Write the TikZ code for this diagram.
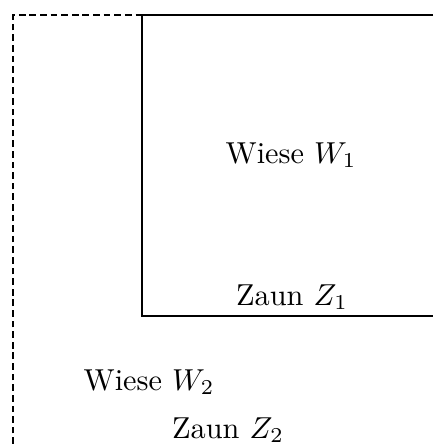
\documentclass[tikz,border=0pt]{standalone}
\begin{document}
\begin{tikzpicture}[x=0.33pt,y=-0.33pt,
  lbl/.style={inner sep=0pt,font=\normalsize},
  fence/.style={line width=0.45pt},
  border/.style={line width=0.45pt,dash pattern=on 2.2pt off 1.3pt}]
\useasboundingbox (0,0) rectangle (433,444);
\coordinate (dl) at (13,444);
\coordinate (dc) at (13,15);
\coordinate (tc) at (142,15);
\coordinate (tr) at (433,15);
\coordinate (bc) at (142,316);
\coordinate (br) at (433,316);
\draw[border] (dl) -- (dc) -- (tc);
\draw[fence] (tr) -- (tc) -- (bc) -- (br);
\node[lbl] (w1) at (291,155) {Wiese $W_1$};
\node[lbl] (z1) at (292,297) {Zaun $Z_1$};
\node[lbl] (w2) at (149,382) {Wiese $W_2$};
\node[lbl] (z2) at (228,430) {Zaun $Z_2$};
\end{tikzpicture}
\end{document}
